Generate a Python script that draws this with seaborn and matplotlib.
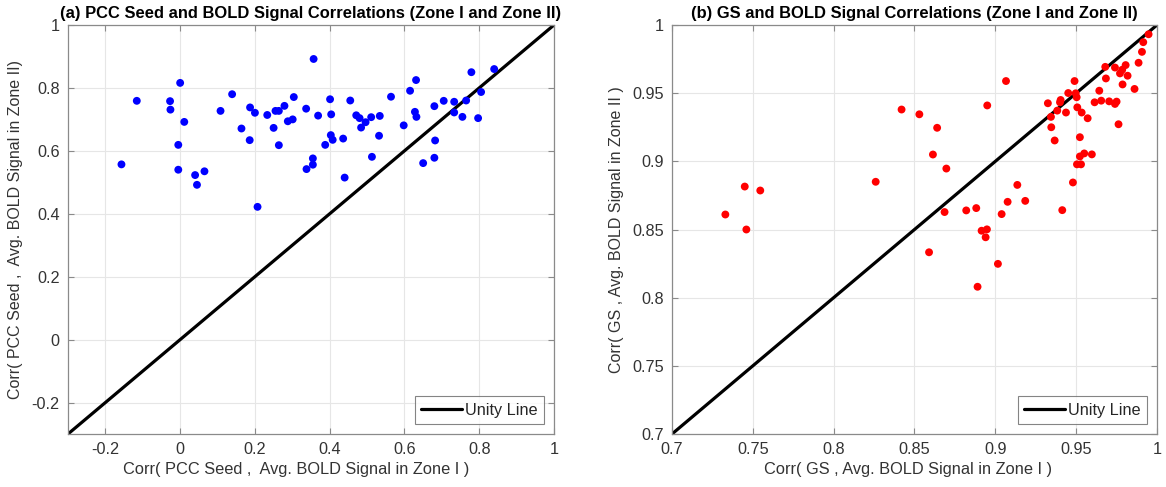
import numpy as np
import pandas as pd
import matplotlib
matplotlib.use("Agg")
import matplotlib.pyplot as plt
import seaborn as sns

# ---------------- data ----------------
pcc_zone1 = [0.000, -0.116, -0.027, -0.026, 0.011, -0.005, -0.157, -0.005, 0.040, 0.065,
             0.045, 0.108, 0.139, 0.164, 0.187, 0.200, 0.186, 0.207, 0.233, 0.250,
             0.255, 0.264, 0.264, 0.279, 0.288, 0.301, 0.304, 0.337, 0.338, 0.357,
             0.355, 0.355, 0.369, 0.401, 0.404, 0.403, 0.408, 0.388, 0.436, 0.440,
             0.455, 0.471, 0.480, 0.484, 0.496, 0.511, 0.513, 0.534, 0.532, 0.564,
             0.598, 0.615, 0.631, 0.628, 0.632, 0.650, 0.680, 0.682, 0.680, 0.705,
             0.733, 0.733, 0.755, 0.765, 0.779, 0.797, 0.805, 0.840]
pcc_zone2 = [0.816, 0.759, 0.758, 0.731, 0.692, 0.619, 0.557, 0.540, 0.523, 0.535,
             0.492, 0.727, 0.780, 0.671, 0.738, 0.721, 0.634, 0.422, 0.714, 0.673,
             0.727, 0.727, 0.618, 0.743, 0.694, 0.700, 0.771, 0.734, 0.542, 0.892,
             0.576, 0.556, 0.712, 0.764, 0.716, 0.650, 0.635, 0.619, 0.639, 0.515,
             0.760, 0.713, 0.704, 0.674, 0.691, 0.707, 0.581, 0.711, 0.648, 0.772,
             0.681, 0.791, 0.825, 0.724, 0.708, 0.561, 0.742, 0.633, 0.578, 0.759,
             0.756, 0.722, 0.708, 0.760, 0.850, 0.704, 0.787, 0.860]

gs_zone1 = [0.745, 0.7546, 0.733, 0.746, 0.826, 0.842, 0.853, 0.864, 0.8614, 0.8697,
            0.8686, 0.882, 0.8882, 0.8915, 0.8948, 0.894, 0.859, 0.895, 0.9066, 0.9016,
            0.9039, 0.9076, 0.9136, 0.9185, 0.9414, 0.948, 0.9505, 0.953, 0.9523, 0.955,
            0.9597, 0.9523, 0.9367, 0.9346, 0.9344, 0.9325, 0.9383, 0.940, 0.9404, 0.9437,
            0.9451, 0.949, 0.9497, 0.9503, 0.9507, 0.9534, 0.9571, 0.9614, 0.9643, 0.9655,
            0.968, 0.9684, 0.9704, 0.974, 0.975, 0.9762, 0.974, 0.9771, 0.9785, 0.9806,
            0.9818, 0.9787, 0.9861, 0.9886, 0.9907, 0.9915, 0.9948, 0.889]
gs_zone2 = [0.8815, 0.8786, 0.861, 0.850, 0.885, 0.938, 0.9345, 0.9246, 0.905, 0.8947,
            0.8628, 0.864, 0.8657, 0.8491, 0.8501, 0.8443, 0.8333, 0.941, 0.9589, 0.8248,
            0.8613, 0.8703, 0.8827, 0.871, 0.8642, 0.8845, 0.8978, 0.8978, 0.9036, 0.9058,
            0.9051, 0.9177, 0.9153, 0.925, 0.9326, 0.9426, 0.9372, 0.9433, 0.945, 0.9358,
            0.9501, 0.9589, 0.9499, 0.947, 0.9396, 0.9358, 0.9316, 0.9433, 0.9518, 0.9445,
            0.9693, 0.9608, 0.944, 0.9421, 0.9438, 0.9272, 0.9688, 0.9645, 0.9672, 0.9706,
            0.9628, 0.9564, 0.9531, 0.9723, 0.9803, 0.9874, 0.9932, 0.808]

left_xticks = [-0.2, 0, 0.2, 0.4, 0.6, 0.8, 1]
left_yticks = [-0.2, 0, 0.2, 0.4, 0.6, 0.8, 1]
right_ticks = [0.7, 0.75, 0.8, 0.85, 0.9, 0.95, 1]

df_pcc = pd.DataFrame({"x": pcc_zone1, "y": pcc_zone2})
df_gs = pd.DataFrame({"x": gs_zone1, "y": gs_zone2})

# ---------------- style ----------------
sns.set_style("white")
plt.rcParams['font.family'] = ['Liberation Sans', 'DejaVu Sans']
plt.rcParams['font.size'] = 11

fig = plt.figure(figsize=(11.66, 4.87), dpi=100)
ax1 = fig.add_axes([68/1166, 53/487, 486/1166, 409/487])
ax2 = fig.add_axes([672/1166, 53/487, 485/1166, 409/487])

spine_col = "#8a8a8a"
text_col = "#333333"


def style_axes(ax, lims_x, lims_y, xt, yt, xtl, ytl):
    ax.set_xlim(*lims_x)
    ax.set_ylim(*lims_y)
    ax.set_xticks(xt)
    ax.set_yticks(yt)
    ax.set_xticklabels(xtl)
    ax.set_yticklabels(ytl)
    ax.grid(True, color="#e6e6e6", linewidth=0.8)
    ax.set_axisbelow(True)
    for s in ax.spines.values():
        s.set_color(spine_col)
        s.set_linewidth(0.9)
    ax.tick_params(direction="in", length=4, width=0.8, color=spine_col,
                   labelcolor=text_col, labelsize=11.7, top=True, right=True,
                   bottom=True, left=True, pad=6)


def fmt(v):
    return "%g" % v


def add_legend(ax):
    leg = ax.legend(loc="lower right", fontsize=11.7, frameon=True, fancybox=False,
                    edgecolor="#666666", handlelength=2.5, handletextpad=0.2,
                    borderaxespad=0.6, borderpad=0.4)
    leg.get_frame().set_linewidth(0.8)
    return leg


# left panel
lo, hi = -0.3, 1.0
ax1.plot([lo, hi], [lo, hi], color="black", linewidth=2.3, label="Unity Line", zorder=2)
sns.scatterplot(data=df_pcc, x="x", y="y", ax=ax1, color="#0000ff", s=32,
                edgecolor="none", zorder=3, legend=False)
style_axes(ax1, (lo, hi), (lo, hi), left_xticks, left_yticks,
           [fmt(v) for v in left_xticks], [fmt(v) for v in left_yticks])
ax1.set_xlabel("Corr( PCC Seed ,  Avg. BOLD Signal in Zone I )", color=text_col, fontsize=11.8)
ax1.xaxis.set_label_coords(0.469, -0.068)
ax1.set_ylabel("Corr( PCC Seed ,  Avg. BOLD Signal in Zone II)", color=text_col, fontsize=11.5, labelpad=6)
ax1.set_title("(a) PCC Seed and BOLD Signal Correlations (Zone I and Zone II)",
              fontsize=11.9, fontweight="bold", color="black", pad=5)
add_legend(ax1)

# right panel
lo2, hi2 = 0.7, 1.0
ax2.plot([lo2, hi2], [lo2, hi2], color="black", linewidth=2.3, label="Unity Line", zorder=2)
sns.scatterplot(data=df_gs, x="x", y="y", ax=ax2, color="#ff0000", s=32,
                edgecolor="none", zorder=3, legend=False)
style_axes(ax2, (lo2, hi2), (lo2, hi2), right_ticks, right_ticks,
           [fmt(v) for v in right_ticks], [fmt(v) for v in right_ticks])
ax2.set_xlabel("Corr( GS , Avg. BOLD Signal in Zone I )", color=text_col, fontsize=11.8)
ax2.xaxis.set_label_coords(0.486, -0.068)
ax2.set_ylabel("Corr( GS , Avg. BOLD Signal in Zone II )", color=text_col, fontsize=11.5, labelpad=6)
ax2.set_title("(b) GS and BOLD Signal Correlations (Zone I and Zone II)",
              fontsize=11.9, fontweight="bold", color="black", pad=5)
add_legend(ax2)

fig.savefig("out.png", dpi=100)
